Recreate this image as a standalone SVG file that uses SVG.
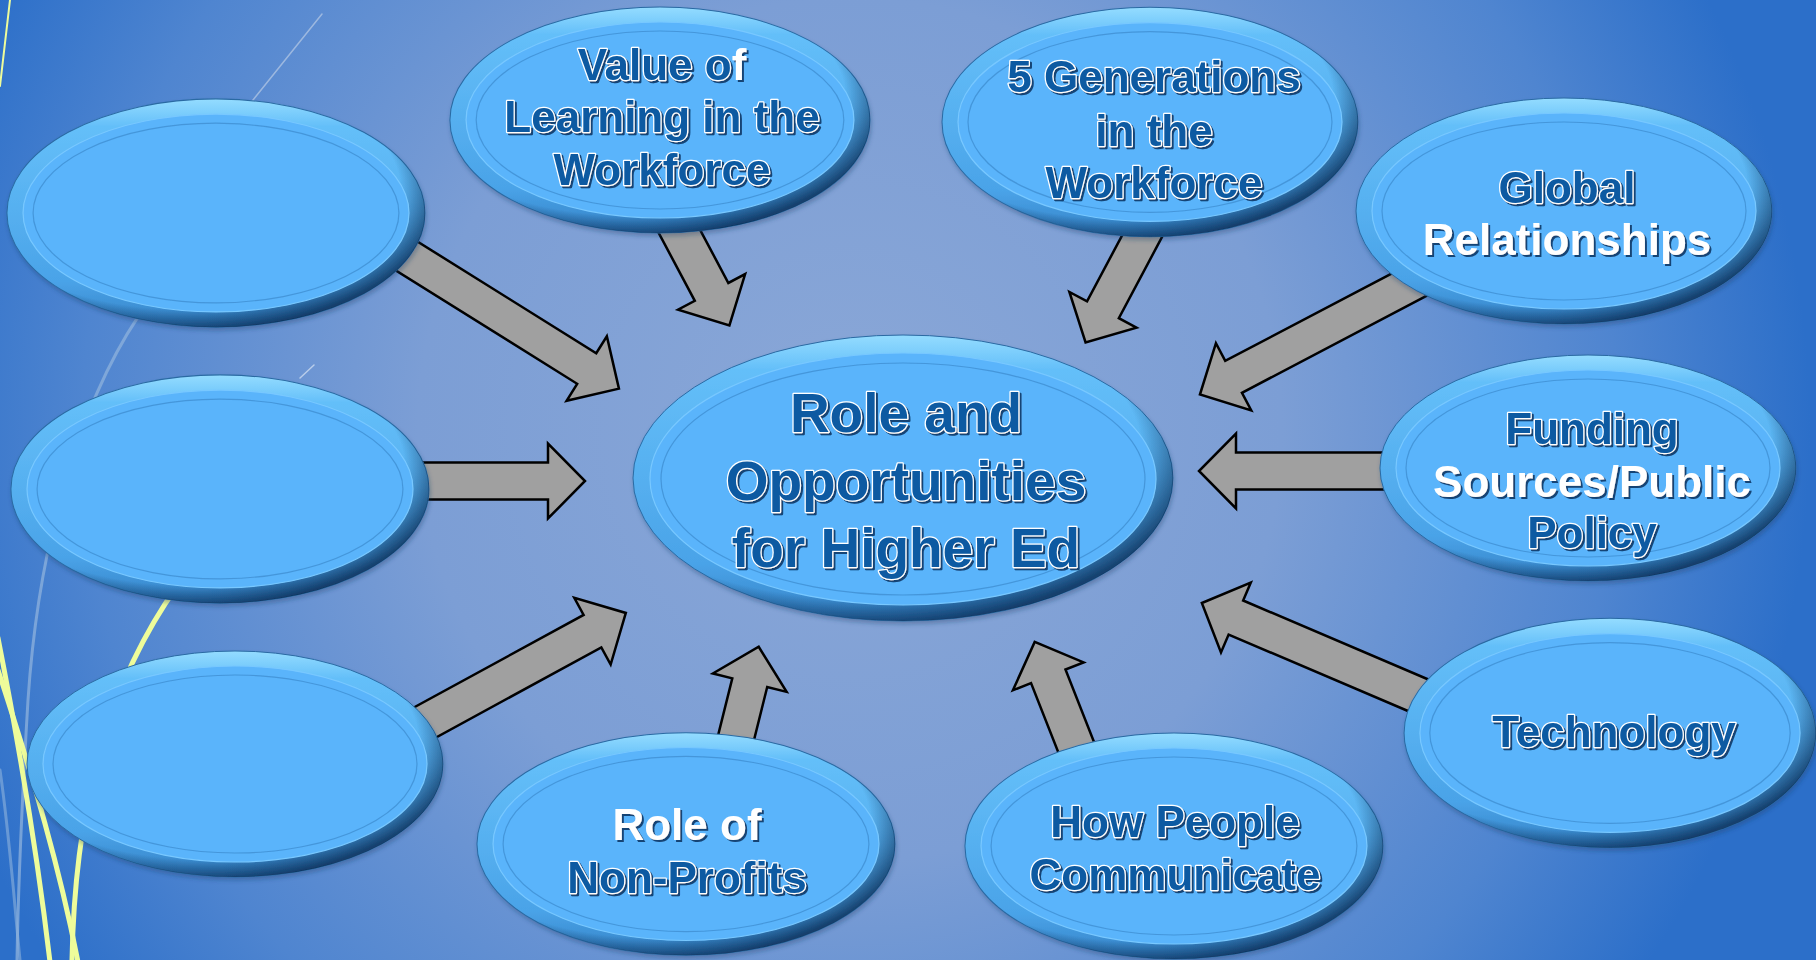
<svg xmlns="http://www.w3.org/2000/svg" xmlns:xlink="http://www.w3.org/1999/xlink" width="1816" height="960" viewBox="0 0 1816 960">
<defs>
<radialGradient id="bg" gradientUnits="userSpaceOnUse" cx="850" cy="430" r="960">
 <stop offset="0" stop-color="#8aa7d7"/>
 <stop offset="0.45" stop-color="#7c9ed5"/>
 <stop offset="0.8" stop-color="#4f85d0"/>
 <stop offset="1" stop-color="#2c6fc9"/>
</radialGradient>
<linearGradient id="rim" x1="0" y1="0" x2="0" y2="1">
 <stop offset="0" stop-color="#94dcff"/>
 <stop offset="0.12" stop-color="#64bff9"/>
 <stop offset="0.8" stop-color="#4aa3e8"/>
 <stop offset="1" stop-color="#3482c6"/>
</linearGradient>
<radialGradient id="edge" cx="0.42" cy="0.4" r="0.62">
 <stop offset="0.84" stop-color="#06244a" stop-opacity="0"/>
 <stop offset="1" stop-color="#06244a" stop-opacity="0.75"/>
</radialGradient>
<filter id="ts" x="-10%" y="-20%" width="120%" height="140%">
 <feDropShadow dx="2" dy="2" stdDeviation="0.6" flood-color="#0e3766" flood-opacity="0.9"/>
</filter>
<filter id="bs" x="-10%" y="-10%" width="120%" height="130%">
 <feDropShadow dx="1" dy="3" stdDeviation="2" flood-color="#1a3a66" flood-opacity="0.35"/>
</filter>
<g id="bub">
 <ellipse rx="208" ry="113" fill="url(#rim)" stroke="#2a6aa3" stroke-width="1"/>
 <ellipse rx="208" ry="113" fill="url(#edge)"/>
 <ellipse rx="192" ry="98" fill="#5ab4fb" stroke="#78c8ff" stroke-width="1.2"/>
 <ellipse rx="182" ry="89" fill="none" stroke="#3e8fd2" stroke-width="1.2" opacity="0.8"/>
</g>
</defs>
<style>
 .ar{fill:#a0a0a0;stroke:#000;stroke-width:2.5;stroke-linejoin:miter}
 .t{font-family:"Liberation Sans",Arial,sans-serif;font-weight:700;text-anchor:middle;fill:#0b5aa2;stroke:#fff;stroke-width:2.5;paint-order:stroke;stroke-linejoin:round;filter:url(#ts)}
 .s44{font-size:44px}
 .s54{font-size:55px}
 .w{fill:#fff;stroke:none}
 .deco{fill:none;stroke-linecap:round}
</style>

<rect width="1816" height="960" fill="url(#bg)"/>

<g id="decoration">
 <path class="deco" d="M0,86 L10,0" stroke="#eefc9a" stroke-width="2"/>
 <path class="deco" d="M245,110 L322,14" stroke="#b8cbe6" stroke-width="1.5" opacity="0.7"/>
 <path class="deco" d="M300,378 L314,365" stroke="#d8e4f4" stroke-width="1.5" opacity="0.7"/>
 <path class="deco" d="M150,300 C90,380 40,520 28,700 C22,800 18,900 17,960" stroke="#8db2dc" stroke-width="3" opacity="0.75"/>
 <path class="deco" d="M0,770 C10,840 14,900 20,960" stroke="#8db2dc" stroke-width="3" opacity="0.6"/>
 <path class="deco" d="M178,585 C110,680 75,800 72,960" stroke="#eefc9a" stroke-width="5"/>
 <path class="deco" d="M-2,638 C22,760 38,860 50,962" stroke="#eefc9a" stroke-width="5"/>
 <path class="deco" d="M-2,670 C34,780 60,870 78,962" stroke="#eefc9a" stroke-width="5"/>
</g>

<g id="connectors">
 <polygon class="ar" transform="translate(373,235) rotate(32)" points="0,-18 252,-18 252,-38 290,0 252,38 252,18 0,18"/>
 <polygon class="ar" transform="translate(659,193) rotate(62)" points="0,-19 112,-19 112,-38 150,0 112,38 112,19 0,19"/>
 <polygon class="ar" transform="translate(1156,210) rotate(118)" points="0,-18 113,-18 113,-38 150,0 113,38 113,18 0,18"/>
 <polygon class="ar" transform="translate(1439,269) rotate(152.3)" points="0,-18 232,-18 232,-38 270,0 232,38 232,18 0,18"/>
 <polygon class="ar" transform="translate(1420,471) rotate(180)" points="0,-18.5 184,-18.5 184,-37.5 221,0 184,37.5 184,18.5 0,18.5"/>
 <polygon class="ar" transform="translate(1441,705) rotate(203.1)" points="0,-18.5 223,-18.5 223,-38 260,0 223,38 223,18.5 0,18.5"/>
 <polygon class="ar" transform="translate(1108,828) rotate(-111.5)" points="0,-18.5 163,-18.5 163,-38 200,0 163,38 163,18.5 0,18.5"/>
 <polygon class="ar" transform="translate(720,802) rotate(-76)" points="0,-18 123,-18 123,-38 160,0 123,38 123,18 0,18"/>
 <polygon class="ar" transform="translate(380,747) rotate(-28.6)" points="0,-18.5 242,-18.5 242,-38 280,0 242,38 242,18.5 0,18.5"/>
 <polygon class="ar" transform="translate(380,481)" points="0,-18.5 168,-18.5 168,-37.5 205,0 168,37.5 168,18.5 0,18.5"/>
</g>

<g id="node-left-top" filter="url(#bs)"><use xlink:href="#bub" href="#bub" transform="translate(216,213) scale(1.005,1.01)"/></g>
<g id="node-left-middle" filter="url(#bs)"><use xlink:href="#bub" href="#bub" transform="translate(220,489) scale(1.005,1.01)"/></g>
<g id="node-left-bottom" filter="url(#bs)"><use xlink:href="#bub" href="#bub" transform="translate(235,764)"/></g>

<g id="node-value">
 <use xlink:href="#bub" href="#bub" transform="translate(660,120) scale(1.01,1)" filter="url(#bs)"/>
 <text class="t s44" x="662"><tspan x="662" y="80">Value o<tspan class="w">f</tspan></tspan><tspan x="662" y="132">Learning in the</tspan><tspan x="662" y="185">Workforce</tspan></text>
</g>

<g id="node-generations">
 <use xlink:href="#bub" href="#bub" transform="translate(1150,122) scale(1,1.015)" filter="url(#bs)"/>
 <text class="t s44"><tspan x="1154" y="92">5 Generations</tspan><tspan x="1154" y="146">in the</tspan><tspan x="1154" y="198">Workforce</tspan></text>
</g>

<g id="node-global">
 <use xlink:href="#bub" href="#bub" transform="translate(1564,211)" filter="url(#bs)"/>
 <text class="t s44"><tspan x="1567" y="203">Global</tspan><tspan class="w" x="1567" y="255">Relationships</tspan></text>
</g>

<g id="node-funding">
 <use xlink:href="#bub" href="#bub" transform="translate(1588,468)" filter="url(#bs)"/>
 <text class="t s44"><tspan x="1592" y="444">Funding</tspan><tspan class="w" x="1592" y="497">Sources/Public</tspan><tspan x="1592" y="548">Policy</tspan></text>
</g>

<g id="node-technology">
 <use xlink:href="#bub" href="#bub" transform="translate(1610,733) scale(0.99,1.015)" filter="url(#bs)"/>
 <text class="t s44" x="1614" y="747">Technology</text>
</g>

<g id="node-communicate">
 <use xlink:href="#bub" href="#bub" transform="translate(1174,846) scale(1.005,1)" filter="url(#bs)"/>
 <text class="t s44"><tspan x="1175" y="837">How People</tspan><tspan x="1175" y="890">Communicate</tspan></text>
</g>

<g id="node-nonprofits">
 <use xlink:href="#bub" href="#bub" transform="translate(686,844) scale(1.005,0.985)" filter="url(#bs)"/>
 <text class="t s44"><tspan class="w" x="687" y="840">Role of</tspan><tspan x="687" y="893">Non-Profits</tspan></text>
</g>

<g id="node-center">
 <g filter="url(#bs)">
  <ellipse cx="903" cy="478" rx="270" ry="143" fill="url(#rim)" stroke="#2a6aa3" stroke-width="1"/>
  <ellipse cx="903" cy="478" rx="270" ry="143" fill="url(#edge)"/>
  <ellipse cx="903" cy="479" rx="253" ry="126" fill="#5ab4fb" stroke="#78c8ff" stroke-width="1.2"/>
  <ellipse cx="903" cy="479" rx="242" ry="116" fill="none" stroke="#3e8fd2" stroke-width="1.2" opacity="0.8"/>
 </g>
 <text class="t s54"><tspan x="906" y="432">Role and</tspan><tspan x="906" y="500">Opportunities</tspan><tspan x="906" y="567">for Higher Ed</tspan></text>
</g>
</svg>
